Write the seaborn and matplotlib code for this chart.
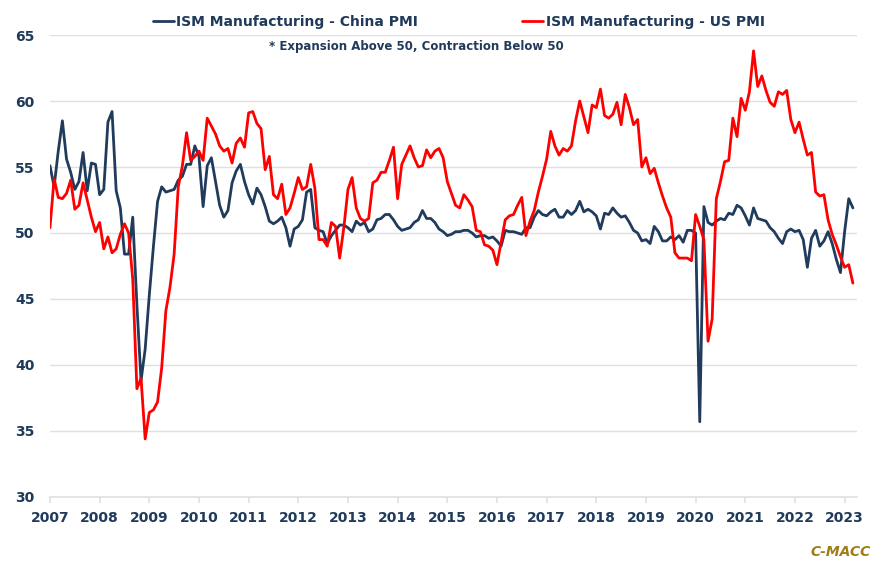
import numpy as np
import seaborn as sns
import matplotlib.pyplot as plt

# monthly readings, Jan 2007 .. Mar 2023
china_pmi = [
    55.1, 53.5, 56.2, 58.5, 55.6, 54.6, 53.3, 53.9, 56.1, 53.2, 55.3, 55.2,  # 2007
    52.9, 53.3, 58.4, 59.2, 53.2, 51.9, 48.4, 48.4, 51.2, 44.6, 38.8, 41.2,  # 2008
    45.3, 49.0, 52.4, 53.5, 53.1, 53.2, 53.3, 54.0, 54.3, 55.2, 55.2, 56.6,  # 2009
    55.8, 52.0, 55.1, 55.7, 53.9, 52.1, 51.2, 51.7, 53.8, 54.7, 55.2, 53.9,  # 2010
    52.9, 52.2, 53.4, 52.9, 52.0, 50.9, 50.7, 50.9, 51.2, 50.4, 49.0, 50.3,  # 2011
    50.5, 51.0, 53.1, 53.3, 50.4, 50.2, 50.1, 49.2, 49.8, 50.2, 50.6, 50.6,  # 2012
    50.4, 50.1, 50.9, 50.6, 50.8, 50.1, 50.3, 51.0, 51.1, 51.4, 51.4, 51.0,  # 2013
    50.5, 50.2, 50.3, 50.4, 50.8, 51.0, 51.7, 51.1, 51.1, 50.8, 50.3, 50.1,  # 2014
    49.8, 49.9, 50.1, 50.1, 50.2, 50.2, 50.0, 49.7, 49.8, 49.8, 49.6, 49.7,  # 2015
    49.4, 49.0, 50.2, 50.1, 50.1, 50.0, 49.9, 50.4, 50.4, 51.2, 51.7, 51.4,  # 2016
    51.3, 51.6, 51.8, 51.2, 51.2, 51.7, 51.4, 51.7, 52.4, 51.6, 51.8, 51.6,  # 2017
    51.3, 50.3, 51.5, 51.4, 51.9, 51.5, 51.2, 51.3, 50.8, 50.2, 50.0, 49.4,  # 2018
    49.5, 49.2, 50.5, 50.1, 49.4, 49.4, 49.7, 49.5, 49.8, 49.3, 50.2, 50.2,  # 2019
    50.0, 35.7, 52.0, 50.8, 50.6, 50.9, 51.1, 51.0, 51.5, 51.4, 52.1, 51.9,  # 2020
    51.3, 50.6, 51.9, 51.1, 51.0, 50.9, 50.4, 50.1, 49.6, 49.2, 50.1, 50.3,  # 2021
    50.1, 50.2, 49.5, 47.4, 49.6, 50.2, 49.0, 49.4, 50.1, 49.2, 48.0, 47.0,  # 2022
    50.1, 52.6, 51.9,                                                        # 2023
]

us_pmi = [
    50.4, 54.1, 52.7, 52.6, 53.0, 54.0, 51.8, 52.1, 53.8, 52.5, 51.2, 50.1,  # 2007
    50.8, 48.8, 49.7, 48.5, 48.8, 49.9, 50.7, 50.0, 46.5, 38.2, 39.0, 34.4,  # 2008
    36.4, 36.6, 37.2, 39.8, 44.1, 45.9, 48.4, 53.5, 55.1, 57.6, 55.5, 55.8,  # 2009
    56.2, 55.5, 58.7, 58.1, 57.5, 56.6, 56.2, 56.4, 55.3, 56.8, 57.2, 56.5,  # 2010
    59.1, 59.2, 58.3, 57.9, 54.8, 55.8, 52.9, 52.6, 53.7, 51.4, 51.9, 53.0,  # 2011
    54.2, 53.3, 53.5, 55.2, 53.4, 49.5, 49.5, 49.0, 50.8, 50.5, 48.1, 50.4,  # 2012
    53.3, 54.2, 51.9, 51.1, 50.9, 51.1, 53.8, 54.0, 54.6, 54.6, 55.5, 56.5,  # 2013
    52.6, 55.2, 55.9, 56.6, 55.7, 55.0, 55.1, 56.3, 55.7, 56.2, 56.4, 55.7,  # 2014
    53.9, 53.0, 52.1, 51.9, 52.9, 52.5, 52.0, 50.2, 50.1, 49.1, 49.0, 48.7,  # 2015
    47.6, 49.3, 51.0, 51.3, 51.4, 52.1, 52.7, 49.8, 50.9, 51.7, 53.1, 54.3,  # 2016
    55.6, 57.7, 56.6, 55.9, 56.4, 56.2, 56.6, 58.5, 60.0, 58.8, 57.6, 59.7,  # 2017
    59.5, 60.9, 58.9, 58.7, 59.0, 59.9, 58.2, 60.5, 59.5, 58.2, 58.6, 55.0,  # 2018
    55.7, 54.5, 54.9, 53.8, 52.8, 51.9, 51.2, 48.5, 48.1, 48.1, 48.1, 47.9,  # 2019
    51.4, 50.5, 49.5, 41.8, 43.5, 52.6, 53.9, 55.4, 55.5, 58.7, 57.3, 60.2,  # 2020
    59.3, 60.7, 63.8, 61.1, 61.9, 60.8, 59.9, 59.6, 60.7, 60.5, 60.8, 58.6,  # 2021
    57.6, 58.4, 57.1, 55.9, 56.1, 53.1, 52.8, 52.9, 51.0, 49.9, 49.1, 48.2,  # 2022
    47.4, 47.6, 46.2,                                                        # 2023
]

years = list(range(2007, 2024))
y_ticks = list(range(30, 66, 5))

# month positions as fractional years
t = 2007 + np.arange(len(china_pmi)) / 12

navy = "#1f3a5a"
grid_col = "#e0e0e0"

sns.set_theme(style="white")
plt.rcParams["font.family"] = ["DejaVu Sans"]

fig = plt.figure(figsize=(8.86, 5.62), dpi=100)
ax = fig.add_axes([0.0564, 0.1157, 0.9109, 0.822])

sns.lineplot(x=t, y=china_pmi, color="#203b5c", linewidth=2.0,
             label="ISM Manufacturing - China PMI", ax=ax)
sns.lineplot(x=t, y=us_pmi, color="#ff0000", linewidth=2.0,
             label="ISM Manufacturing - US PMI", ax=ax)

ax.set_xlim(2007, 2007 + 195 / 12)
ax.set_ylim(30, 65)
ax.set_xticks(years)
ax.set_yticks(y_ticks)
ax.set_xlabel("")
ax.set_ylabel("")

ax.yaxis.grid(True, color=grid_col, linewidth=1.0)
ax.xaxis.grid(False)
for side in ["left", "right", "top"]:
    ax.spines[side].set_visible(False)
ax.spines["bottom"].set_color(grid_col)
ax.spines["bottom"].set_linewidth(1.2)

ax.tick_params(axis="x", length=4, width=1.2, color=grid_col, pad=6,
               labelsize=10, labelcolor=navy, bottom=True)
ax.tick_params(axis="y", length=0, pad=11, labelsize=10, labelcolor=navy)
for lbl in ax.get_xticklabels() + ax.get_yticklabels():
    lbl.set_fontweight("bold")

leg = ax.legend(loc="center", bbox_to_anchor=(0.518, 0.961),
                bbox_transform=fig.transFigure, ncol=2, frameon=False,
                columnspacing=7.5, handlelength=1.5, handletextpad=0.2,
                prop={"weight": "bold", "size": 10})
for txt in leg.get_texts():
    txt.set_color(navy)

fig.text(0.470, 0.918, "* Expansion Above 50, Contraction Below 50",
         ha="center", va="center", fontsize=8.5, fontweight="bold", color=navy)
fig.text(0.983, 0.018, "C-MACC", ha="right", va="center", fontsize=10,
         fontweight="bold", fontstyle="italic", color="#a07c14")

plt.savefig("out.png", dpi=100)
